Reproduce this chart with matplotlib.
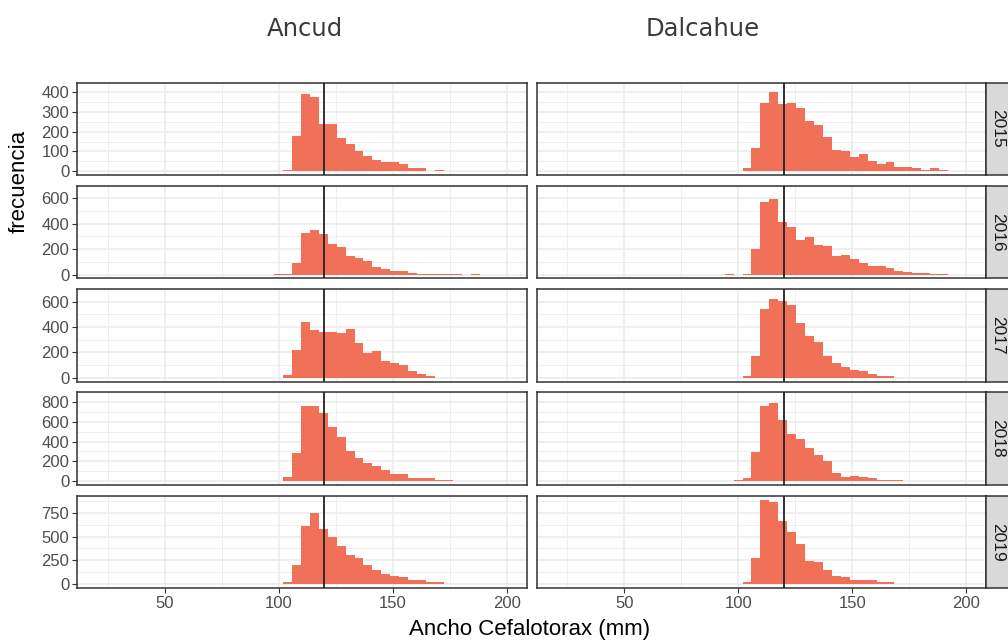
import numpy as np
import matplotlib
matplotlib.use("Agg")
import matplotlib.pyplot as plt

# Histogram counts per bin (bin 0 starts at BIN_START)
BIN_START = 94.05
BIN_WIDTH = 3.92

sites = ["Ancud", "Dalcahue"]
years = ["2015", "2016", "2017", "2018", "2019"]

ancud_2015 = [0, 0, 7, 179, 390, 375, 237, 237, 166, 135, 101, 79, 56, 48, 44, 36, 17, 17, 0, 7]
ancud_2016 = [0, 3, 4, 90, 330, 349, 320, 244, 217, 145, 133, 104, 56, 44, 28, 28, 13, 4, 4, 4,
              4, 4, 0, 4]
ancud_2017 = [0, 0, 24, 218, 442, 374, 364, 364, 352, 387, 272, 198, 208, 128, 118, 98, 51, 29, 16]
ancud_2018 = [0, 0, 36, 282, 763, 763, 691, 552, 452, 307, 231, 181, 156, 112, 68, 68, 27, 27, 27,
              11, 11]
ancud_2019 = [0, 0, 23, 199, 616, 743, 581, 500, 404, 309, 277, 196, 150, 101, 86, 72, 41, 41, 23, 23]

dalcahue_2015 = [0, 0, 15, 117, 345, 402, 340, 345, 318, 253, 232, 171, 109, 101, 72, 87, 50, 36,
                 44, 23, 23, 17, 7, 17, 6]
dalcahue_2016 = [4, 0, 4, 198, 570, 599, 414, 371, 275, 296, 236, 222, 143, 157, 121, 90, 71, 71,
                 52, 30, 18, 11, 11, 4, 4]
dalcahue_2017 = [0, 0, 16, 173, 545, 625, 603, 578, 434, 330, 282, 173, 116, 81, 61, 51, 29, 16, 16]
dalcahue_2018 = [0, 11, 27, 294, 763, 792, 618, 480, 423, 335, 263, 206, 80, 36, 52, 36, 27, 11, 11, 11]
dalcahue_2019 = [0, 0, 23, 277, 886, 868, 662, 549, 418, 245, 228, 150, 86, 72, 41, 41, 41, 23, 23]

counts = {
    "Ancud": [ancud_2015, ancud_2016, ancud_2017, ancud_2018, ancud_2019],
    "Dalcahue": [dalcahue_2015, dalcahue_2016, dalcahue_2017, dalcahue_2018, dalcahue_2019],
}

row_yticks = [[0, 100, 200, 300, 400], [0, 200, 400, 600], [0, 200, 400, 600],
              [0, 200, 400, 600, 800], [0, 250, 500, 750]]
x_major = [50, 100, 150, 200]
x_minor = [25, 75, 125, 175]
ref_line = 120

# layout (pixels)
W, H = 1008, 641
col_left = [77, 536.5]
col_width = 449.5
row_top0, row_pitch, row_h = 82.5, 103.3, 92.5
strip_left, strip_w = 986, 23.6

BAR = "#F07157"
GRID = "#EBEBEB"
DARK = "#333333"
TICKTXT = "#4D4D4D"


def box(x0, y0, w, h):
    return [x0 / W, 1 - (y0 + h) / H, w / W, h / H]


plt.rcParams["font.family"] = ["Liberation Sans", "DejaVu Sans"]
fig = plt.figure(figsize=(W / 100, H / 100), dpi=100)

for r, year in enumerate(years):
    top = row_top0 + r * row_pitch
    row_max = max(max(counts[s][r]) for s in sites)
    for c, site in enumerate(sites):
        ax = fig.add_axes(box(col_left[c], top, col_width, row_h))
        vals = np.array(counts[site][r])
        left_edges = BIN_START + BIN_WIDTH * np.arange(len(vals))
        ax.bar(left_edges, vals, width=BIN_WIDTH, align="edge", color=BAR,
               linewidth=0, zorder=2)
        ax.axvline(ref_line, color="#222222", lw=1.3, zorder=3)

        ax.set_xlim(11.5, 208.7)
        ax.set_ylim(-0.05 * row_max, 1.05 * row_max)
        ax.set_xticks(x_major)
        ax.set_xticks(x_minor, minor=True)
        yt = row_yticks[r]
        ax.set_yticks(yt)
        ax.set_yticks([v + (yt[1] - yt[0]) / 2 for v in yt], minor=True)

        ax.set_axisbelow(True)
        ax.grid(which="major", color=GRID, lw=1.1)
        ax.grid(which="minor", color=GRID, lw=0.55)
        for sp in ax.spines.values():
            sp.set_color(DARK)
            sp.set_linewidth(1.1)

        ax.tick_params(which="minor", length=0)
        ax.tick_params(which="major", length=3.5, width=0.8, color=DARK,
                       labelsize=12, labelcolor=TICKTXT, pad=2)
        if r < len(years) - 1:
            ax.tick_params(axis="x", which="major", length=0, labelbottom=False)
        if c > 0:
            ax.tick_params(axis="y", which="major", length=0, labelleft=False)

    # facet strip on the right
    sax = fig.add_axes(box(strip_left, top, strip_w, row_h))
    sax.set_facecolor("#D9D9D9")
    sax.set_xticks([])
    sax.set_yticks([])
    for sp in sax.spines.values():
        sp.set_color(DARK)
        sp.set_linewidth(1.1)
    sax.text(0.5, 0.5, year, rotation=270, ha="center", va="center",
             fontsize=12.5, color="#1A1A1A", transform=sax.transAxes)

# column titles
fig.text(305 / W, 1 - 29 / H, "Ancud", ha="center", va="center", fontsize=17.5,
         color="#3A3A3A", family="DejaVu Sans")
fig.text(703 / W, 1 - 29 / H, "Dalcahue", ha="center", va="center", fontsize=17.5,
         color="#3A3A3A", family="DejaVu Sans")

fig.text(530 / W, 1 - 635 / H, "Ancho Cefalotorax (mm)", ha="center", va="baseline",
         fontsize=16, color="black")
fig.text(19.5 / W, 1 - 181 / H, "frecuencia", rotation=90, ha="center", va="center",
         fontsize=16, color="black")

fig.savefig("out.png", dpi=100)
